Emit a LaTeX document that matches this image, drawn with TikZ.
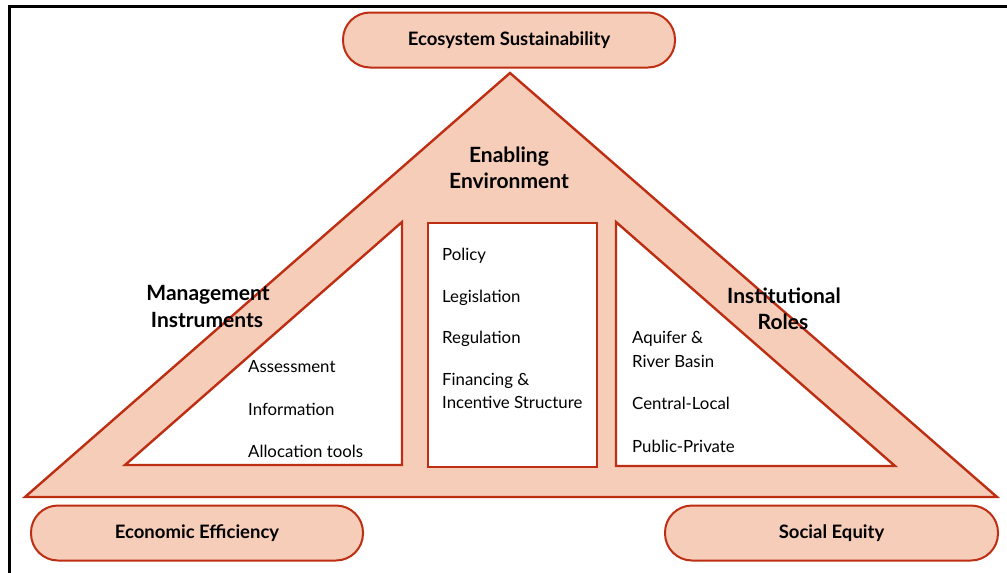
\documentclass[tikz,border=0pt]{standalone}
\usepackage{fontspec}
\setmainfont{Lato}
\definecolor{fillc}{HTML}{F6CDB9}
\definecolor{edgec}{HTML}{BE2E12}
\begin{document}
\begin{tikzpicture}[x=1pt,y=-1pt,
  pill/.style={draw=edgec, line width=2pt, fill=fillc, rounded corners=27pt,
    minimum width=332pt, minimum height=55pt, inner sep=0pt,
    font=\bfseries\fontsize{18.5}{22}\selectfont},
  head/.style={font=\bfseries\fontsize{21}{26}\selectfont, anchor=base, inner sep=0pt},
  item/.style={font=\fontsize{16.8}{20}\selectfont, anchor=base west, inner sep=0pt},
  tri/.style={draw=edgec, line width=2.4pt, line join=miter},
]
\useasboundingbox (0,0) rectangle (1007,573);
\fill[white] (0,0) rectangle (1007,573);
% frame
\draw[line width=3pt] (9,573) -- (9,6) -- (1007,6);

% big triangle and cut-outs
\filldraw[tri, fill=fillc] (510,73) -- (997,497) -- (25,497) -- cycle;
\filldraw[tri, fill=white] (125,465) -- (402,222) -- (402,465) -- cycle;
\filldraw[tri, fill=white] (428,223) rectangle (597,467);
\filldraw[tri, fill=white] (616,222) -- (895,466) -- (616,466) -- cycle;

% pills
\node[pill] (eco) at (509,40) {Ecosystem Sustainability};
\node[pill] (eff) at (197,533) {Economic Efficiency};
\node[pill, minimum width=333pt] (soc) at (831.5,533) {Social Equity};

% headings
\node[head] (en1) at (509,162) {Enabling};
\node[head] (en2) at (509,188) {Environment};
\node[head] (mi1) at (208,300) {Management};
\node[head] (mi2) at (207,327) {Instruments};
\node[head] (ir1) at (784,303) {Institutional};
\node[head] (ir2) at (783,329) {Roles};

% left list
\node[item] (l1) at (248,372) {Assessment};
\node[item] (l2) at (248,415) {Information};
\node[item] (l3) at (248,457) {Allocation tools};

% centre list
\node[item] (c1) at (442,260) {Policy};
\node[item] (c2) at (442,302) {Legislation};
\node[item] (c3) at (442,343) {Regulation};
\node[item] (c4) at (442,385) {Financing \&};
\node[item] (c5) at (442,408) {Incentive Structure};

% right list
\node[item] (r1) at (632,343) {Aquifer \&};
\node[item] (r2) at (632,367) {River Basin};
\node[item] (r3) at (632,409) {Central-Local};
\node[item] (r4) at (632,452) {Public-Private};
\end{tikzpicture}
\end{document}
